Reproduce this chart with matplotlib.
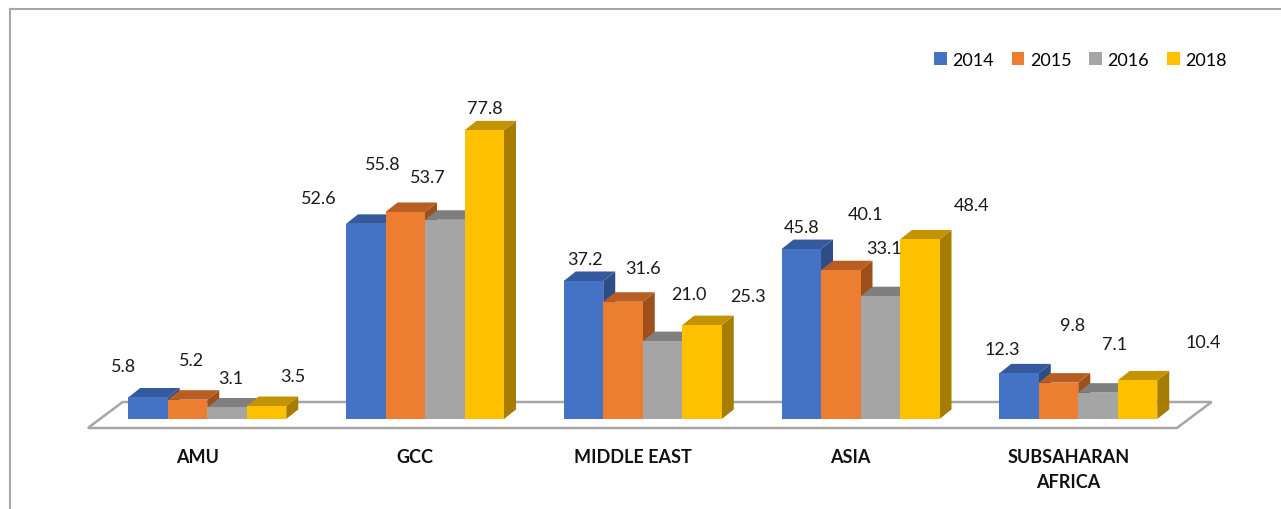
import matplotlib
matplotlib.use('Agg')
import matplotlib.pyplot as plt
from matplotlib.patches import Polygon, Patch
from matplotlib.lines import Line2D

plt.rcParams['font.family'] = ['Lato', 'DejaVu Sans']

# ---------------- data ----------------
categories = ['AMU', 'GCC', 'MIDDLE EAST', 'ASIA', 'SUBSAHARAN\nAFRICA']
years = ['2014', '2015', '2016', '2018']
v2014 = [5.8, 52.6, 37.2, 45.8, 12.3]
v2015 = [5.2, 55.8, 31.6, 40.1, 9.8]
v2016 = [3.1, 53.7, 21.0, 33.1, 7.1]
v2018 = [3.5, 77.8, 25.3, 48.4, 10.4]
series = [v2014, v2015, v2016, v2018]

# ---------------- style ----------------
front_colors = ['#4472C4', '#ED7D31', '#A5A5A5', '#FFC000']
top_colors = ['#34599C', '#B95E22', '#7F7F7F', '#C39300']
side_colors = ['#2D4D86', '#9E4F1B', '#6C6C6C', '#A67D00']

# data label offsets from bar top (pixels, right / up) mimicking the 3D layout
label_offsets = [
    [(-24, 32.5), (-47, 27), (1, 23), (0.5, 23.6), (-17, 26)],
    [(4, 41), (-22, 49.5), (20, 35), (24.5, 57.7), (14, 59.6)],
    [(4, 31), (-16.5, 44), (26, 49), (3.5, 50), (17, 50)],
    [(26, 32), (1, 23.5), (46, 31), (52, 36.4), (66, 40)],
]

W, H, DPI = 1281, 510, 100
PX_X = 217.75   # pixels per category
PX_Y = 3.71     # pixels per value unit
X0 = 207.25     # pixel x of first category centre
Y0 = 420        # pixel y (from top) of value 0

fig = plt.figure(figsize=(W / DPI, H / DPI), dpi=DPI)
ax = fig.add_axes([0, 0, 1, 1])
ax.set_xlim(-X0 / PX_X, (W - X0) / PX_X)
ax.set_ylim(-(H - Y0) / PX_Y, Y0 / PX_Y)
ax.axis('off')

n = len(categories)
bw = 39.5 / PX_X
ddx = 12 / PX_X
ddy = 9.5 / PX_Y

# floor
fl = -0.5 - 0.048
fr = n - 0.5 - 0.047
fy = -9 / PX_Y
bx = 34.7 / PX_X
by = 26 / PX_Y
floor = Polygon([(fl, fy), (fl + bx, fy + by), (fr + bx, fy + by), (fr, fy)],
                closed=True, facecolor='white', edgecolor='#A6A6A6', lw=1.8)
ax.add_patch(floor)

nser = len(series)
for g in range(n):
    for i, vals in enumerate(series):
        v = vals[g]
        x0 = g - nser / 2 * bw + i * bw
        x1 = x0 + bw
        side = Polygon([(x1, 0), (x1 + ddx, ddy), (x1 + ddx, v + ddy), (x1, v)],
                       closed=True, facecolor=side_colors[i], edgecolor='none')
        top = Polygon([(x0, v), (x0 + ddx, v + ddy), (x1 + ddx, v + ddy), (x1, v)],
                      closed=True, facecolor=top_colors[i], edgecolor='none')
        ax.add_patch(side)
        ax.add_patch(top)
        ax.bar(x0, v, width=bw, align='edge', color=front_colors[i], linewidth=0)
        ox, oy = label_offsets[i][g]
        ax.annotate(f'{v:.1f}', xy=(x0 + bw / 2, v),
                    xytext=(ox * 0.72, (oy - 6.5) * 0.72), textcoords='offset points',
                    ha='center', va='baseline', fontsize=13, color='#1a1a1a')

# category labels
for g, cat in enumerate(categories):
    for k, line in enumerate(cat.split('\n')):
        ax.annotate(line, xy=(g, 0), xytext=(-10 * 0.72, -(43 + 25 * k) * 0.72),
                    textcoords='offset points', ha='center', va='baseline',
                    fontsize=13, fontweight='bold', color='#111111')

# legend
handles = [Patch(facecolor=c, edgecolor='none') for c in front_colors]
fig.legend(handles, years, loc='center left',
           bbox_to_anchor=(934 / W, 1 - 61 / H), ncol=4, frameon=False,
           fontsize=13, handlelength=0.7, handleheight=0.7, handletextpad=0.3,
           columnspacing=1.0, borderpad=0, borderaxespad=0)

# chart border (top and left visible)
fig.add_artist(Line2D([9.5 / W, 1], [1 - 10 / H, 1 - 10 / H],
                      transform=fig.transFigure, color='#A6A6A6', lw=1.5))
fig.add_artist(Line2D([9.5 / W, 9.5 / W], [0, 1 - 10 / H],
                      transform=fig.transFigure, color='#A6A6A6', lw=1.5))

fig.savefig('out.png', dpi=DPI)
